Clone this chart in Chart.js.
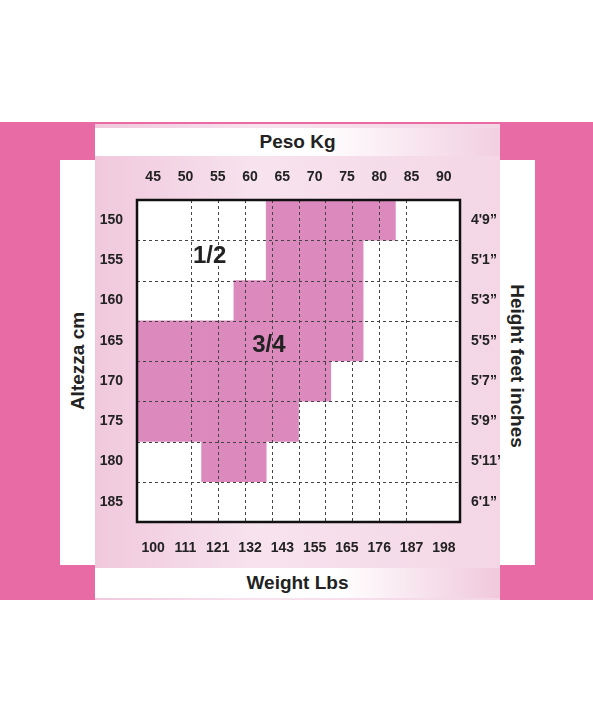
<!DOCTYPE html>
<html><head><meta charset="utf-8">
<script src="https://cdn.jsdelivr.net/npm/chart.js@4"></script>
<style>
body{margin:0;width:593px;height:722px;background:#fff;position:relative;overflow:hidden;font-family:"Liberation Sans",Arial,sans-serif;}
.abs{position:absolute}
.t{font-weight:bold;color:#222;font-family:"Liberation Sans",Arial,sans-serif;font-size:19px;text-align:center}
</style></head><body>
<div class="abs" style="left:0;top:122px;width:593px;height:478px;background:#e86ba6"></div>
<div class="abs" style="left:95px;top:124px;width:405px;height:476px;background:linear-gradient(90deg,#f0c8dc,#f7e3ee 40%,#f4d6e5)"></div>
<div class="abs" style="left:60px;top:160px;width:35px;height:405px;background:#fff"></div>
<div class="abs" style="left:500px;top:160px;width:35px;height:405px;background:#fff"></div>
<div class="abs t" style="left:95px;top:128px;width:405px;height:28px;line-height:28px;background:linear-gradient(90deg,#fff 55%,#f2cfe1)">Peso Kg</div>
<div class="abs t" style="left:95px;top:568px;width:405px;height:30px;line-height:30px;background:linear-gradient(90deg,#fff 60%,#f0c8dc)">Weight Lbs</div>
<div class="abs t" style="left:-122px;top:350px;width:400px;transform:rotate(-90deg)">Altezza cm</div>
<div class="abs t" style="left:317px;top:355px;width:400px;transform:rotate(90deg)">Height feet inches</div>
<div class="abs" style="left:100px;top:170px;width:400px;height:390px"><canvas id="c"></canvas></div>
<script>
const kgLabels=["45","50","55","60","65","70","75","80","85","90"];
const lbsLabels=["100","111","121","132","143","155","165","176","187","198"];
const cmLabels=["150","155","160","165","170","175","180","185"];
const ftLabels=["4'9\u201d","5'1\u201d","5'3\u201d","5'5\u201d","5'7\u201d","5'9\u201d","5'11\u201d","6'1\u201d"];
// shaded row range (row index start, end) per kg column
const shaded=[[3,6],[3,6],[3,7],[2,7],[0,6],[0,5],[0,4],[0,1],null,null];
const zoneLabels=[{text:"1/2",x:1.7,y:1.4},{text:"3/4",x:3.9,y:3.6}];
const font={family:'"Liberation Sans",Arial',size:14,weight:'bold'};
const mid=ax=>{ax.ticks=cmLabels.map((_,i)=>({value:i+0.5}));};
const fixW=w=>ax=>{ax.width=w;};
const fixH=h=>ax=>{ax.height=h;};
const deco={id:'deco',
 beforeDatasetsDraw(ch){const c=ch.ctx,a=ch.chartArea;c.save();c.fillStyle='#fff';c.fillRect(a.left,a.top,a.right-a.left,a.bottom-a.top);c.restore();},
 afterDatasetsDraw(ch){const c=ch.ctx,a=ch.chartArea,xs=ch.scales.xg,ys=ch.scales.y;
 c.save();c.strokeStyle='#444';c.lineWidth=1;c.setLineDash([3,3]);
 for(let i=1;i<kgLabels.length;i++){const x=Math.round(xs.getPixelForValue(i))+0.5;c.beginPath();c.moveTo(x,a.top);c.lineTo(x,a.bottom);c.stroke();}
 for(let j=1;j<cmLabels.length;j++){const y=Math.round(ys.getPixelForValue(j))+0.5;c.beginPath();c.moveTo(a.left,y);c.lineTo(a.right,y);c.stroke();}
 c.setLineDash([]);c.strokeStyle='#111';c.lineWidth=2.5;c.strokeRect(a.left,a.top,a.right-a.left,a.bottom-a.top);
 c.fillStyle='#222';c.font='bold 24px "Liberation Sans",Arial';c.textAlign='center';c.textBaseline='middle';
 zoneLabels.forEach(z=>c.fillText(z.text,xs.getPixelForValue(z.x),ys.getPixelForValue(z.y)));c.restore();}};
new Chart(document.getElementById('c'),{type:'bar',
 data:{labels:kgLabels,datasets:[{data:shaded,backgroundColor:'#dc8abd',categoryPercentage:1,barPercentage:1,xAxisID:'x',yAxisID:'y'}]},
 options:{responsive:true,maintainAspectRatio:false,animation:false,plugins:{legend:{display:false},tooltip:{enabled:false}},
  layout:{padding:0},
  scales:{
   x:{type:'category',position:'top',grid:{display:false},border:{display:false},ticks:{color:'#222',font,padding:6},afterFit:fixH(30)},
   x2:{type:'category',labels:lbsLabels,position:'bottom',grid:{display:false},border:{display:false},ticks:{color:'#222',font,padding:10},afterFit:fixH(38)},
   xg:{type:'linear',min:0,max:10,position:'bottom',ticks:{display:false},grid:{display:false},border:{display:false},afterFit:fixH(0)},
   y:{type:'linear',min:0,max:8,reverse:true,position:'left',afterBuildTicks:mid,ticks:{color:'#222',font,padding:6,callback:(v)=>cmLabels[Math.floor(v)]},grid:{display:false},border:{display:false},afterFit:fixW(37)},
   y2:{type:'linear',min:0,max:8,reverse:true,position:'right',afterBuildTicks:mid,ticks:{color:'#222',font,padding:3,callback:(v)=>ftLabels[Math.floor(v)]},grid:{display:false},border:{display:false},afterFit:fixW(40)}
  }},plugins:[deco]});
</script></body></html>
